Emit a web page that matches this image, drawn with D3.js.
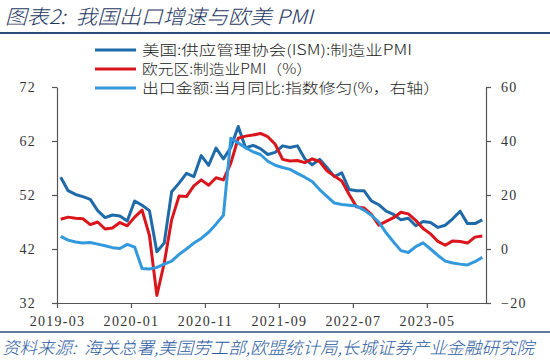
<!DOCTYPE html>
<html><head><meta charset="utf-8">
<script src="https://cdn.jsdelivr.net/npm/d3@7"></script>
<style>body{margin:0;background:#fff} text{white-space:pre}</style>
</head><body>
<svg id="c" width="550" height="361"></svg>
<script>
// ---- data ----
const months = d3.range(58).map(i => {
  const y = 2019 + Math.floor((2 + i) / 12), m = (2 + i) % 12 + 1;
  return y + "-" + String(m).padStart(2, "0");
});
const tickLabels = ["2019-03","2020-01","2020-11","2021-09","2022-07","2023-05"];
const usISM = [55.3,52.8,52.1,51.7,51.2,49.1,47.8,48.3,48.1,47.2,
  50.9,50.1,49.1,41.5,43.1,52.6,54.2,56.0,55.4,59.3,57.5,60.7,
  58.7,60.8,64.7,60.7,61.2,60.6,59.5,59.9,61.1,60.8,61.1,58.7,
  57.6,58.6,57.1,55.4,56.1,53.0,52.8,52.8,50.9,50.2,49.0,48.4,
  47.4,47.7,46.3,47.1,46.9,46.0,46.4,47.6,49.0,46.7,46.7,47.4];
const euPMI = [47.5,47.9,47.7,47.6,46.5,47.0,45.7,45.9,46.9,46.3,
  47.9,49.2,44.5,33.4,39.4,47.4,51.8,51.7,53.7,54.8,53.8,55.2,
  54.8,57.9,62.5,62.9,63.1,63.4,62.8,61.4,58.6,58.3,58.4,58.0,
  58.7,58.2,56.5,55.5,54.6,52.1,49.8,49.6,48.4,46.4,47.1,47.8,
  48.8,48.5,47.3,45.8,44.8,43.4,42.7,43.5,43.4,43.1,44.2,44.4];
const exportYoY = [4.7,3.3,2.6,2.2,2.4,1.8,1.2,0.5,0.2,1.7,
  0.7,-7.2,-7.4,-6.8,-5.6,-4.5,-2.0,0.0,2.2,3.9,6.2,9.2,
  12.5,41.0,39.3,37.5,36.0,35.0,32.5,31.0,30.2,29.5,28.0,26.6,
  25.0,22.0,19.5,17.0,16.5,16.2,15.9,14.4,12.5,10.0,6.0,2.6,
  -0.6,-1.3,0.9,2.3,0.0,-2.4,-4.5,-5.2,-5.6,-5.9,-4.7,-3.1];
const leftTicks = [32,42,52,62,72];
const rightTicks = [-20,0,20,40,60];
const legendItems = [
  {name:"美国:供应管理协会(ISM):制造业PMI", color:"#1f6aa8", w:270},
  {name:"欧元区:制造业PMI（%）", color:"#d9161c", w:170},
  {name:"出口金额:当月同比:指数修匀(%，右轴）", color:"#3399dd", w:298}
];

// ---- chart ----
const svg = d3.select("#c");
const x = d3.scaleLinear().domain([-0.5, 57.5]).range([57, 486]);
const yL = d3.scaleLinear().domain([32, 72]).range([303, 87]);
const yR = d3.scaleLinear().domain([-20, 60]).range([303, 87]);
const axisColor = "#555";
const numFont = "Liberation Serif";
const cjkFont = "Noto Sans CJK SC";

// title
svg.append("text").attr("x", 5).attr("y", 24)
  .style("font-family", cjkFont).style("font-size", "20px").style("font-style", "italic")
  .style("font-weight", 300).attr("fill", "#1f3864")
  .attr("textLength", 308).attr("lengthAdjust", "spacingAndGlyphs")
  .text("图表2:  我国出口增速与欧美 PMI");
svg.append("line").attr("x1", 0).attr("x2", 550).attr("y1", 33).attr("y2", 33)
  .attr("stroke", "#2c4a7c").attr("stroke-width", 2);

// legend
legendItems.forEach((d, i) => {
  const ly = 50 + i * 19;
  svg.append("line").attr("x1", 95).attr("x2", 136).attr("y1", ly).attr("y2", ly)
    .attr("stroke", d.color).attr("stroke-width", 3);
  svg.append("text").attr("x", 142).attr("y", ly + 5)
    .style("font-family", cjkFont).style("font-size", "14px").style("font-weight", 300)
    .attr("fill", "#222").attr("textLength", d.w).attr("lengthAdjust", "spacingAndGlyphs")
    .text(d.name);
});

// axes
const gL = svg.append("g").attr("transform", "translate(57,0)")
  .call(d3.axisLeft(yL).tickValues(leftTicks).tickSize(5).tickSizeOuter(0).tickPadding(20));
const gR = svg.append("g").attr("transform", "translate(486,0)")
  .call(d3.axisRight(yR).tickValues(rightTicks).tickSize(5).tickSizeOuter(0).tickPadding(10));
const gX = svg.append("g").attr("transform", "translate(0,303)")
  .call(d3.axisBottom(x).tickValues(tickLabels.map(t => months.indexOf(t) - 0.5))
    .tickFormat(v => months[Math.round(v + 0.5)]).tickSize(5).tickSizeOuter(0).tickPadding(8));
[gL, gR, gX].forEach(g => {
  g.attr("font-family", null).attr("font-size", null);
  g.select(".domain").attr("stroke", axisColor).attr("stroke-width", 1.2);
  g.selectAll(".tick line").attr("stroke", axisColor).attr("stroke-width", 1.2);
  g.selectAll(".tick text").style("font-family", numFont).style("font-size", "14px")
    .attr("fill", "#333").style("letter-spacing", "1.3px");
});
gL.selectAll(".tick text").attr("dx", 4);

// lines
const series = [
  {vals: usISM, y: yL, color: "#1f6aa8"},
  {vals: euPMI, y: yL, color: "#d9161c"},
  {vals: exportYoY, y: yR, color: "#3399dd"}
];
series.forEach(s => {
  svg.append("path").datum(s.vals)
    .attr("fill", "none").attr("stroke", s.color).attr("stroke-width", 3)
    .attr("stroke-linejoin", "round")
    .attr("d", d3.line().x((d, i) => x(i)).y(d => s.y(d)));
});

// footer
svg.append("line").attr("x1", 0).attr("x2", 550).attr("y1", 332).attr("y2", 332)
  .attr("stroke", "#2c4a7c").attr("stroke-width", 1.5);
svg.append("text").attr("x", 2).attr("y", 354)
  .style("font-family", cjkFont).style("font-size", "17px").style("font-style", "italic")
  .style("font-weight", 300).attr("fill", "#2b5aa0")
  .attr("textLength", 532).attr("lengthAdjust", "spacingAndGlyphs")
  .text("资料来源:  海关总署,美国劳工部,欧盟统计局,长城证券产业金融研究院");
</script>
</body></html>
